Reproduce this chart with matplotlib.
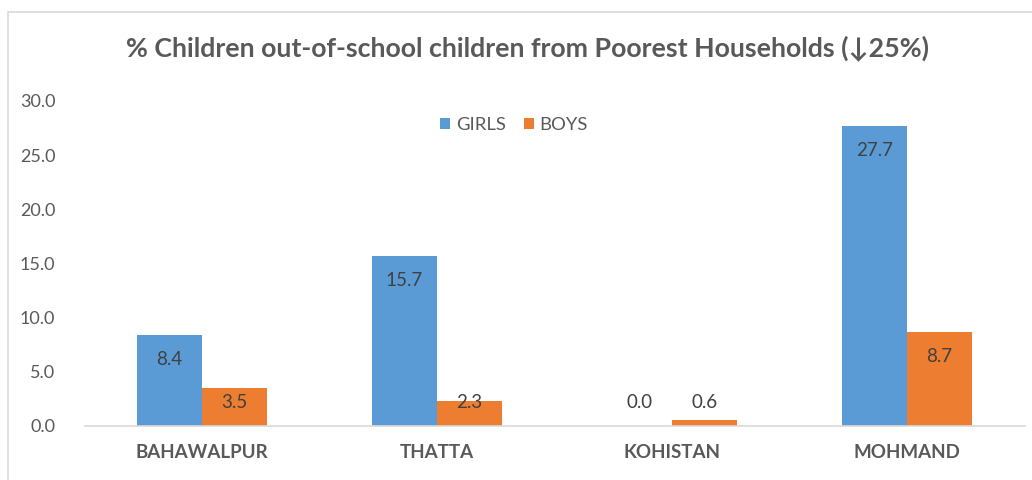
import matplotlib.pyplot as plt
import matplotlib.patches as mpatches
import numpy as np

DISTRICTS = ["BAHAWALPUR", "THATTA", "KOHISTAN", "MOHMAND"]
GIRLS = [8.4, 15.7, 0.0, 27.7]
BOYS = [3.5, 2.3, 0.6, 8.7]
Y_TICKS = [0, 5, 10, 15, 20, 25, 30]

BLUE = "#5b9bd5"
ORANGE = "#ed7d31"
GRAY = "#595959"
FONT = "Lato"

plt.rcParams["font.family"] = [FONT, "DejaVu Sans"]

fig = plt.figure(figsize=(10.32, 4.8), dpi=100)

# chart frame (cropped on the right/bottom in the reference)
fig.patches.append(mpatches.Rectangle((8 / 1032, -0.1), 1.2, 1 - 12 / 480 + 0.1,
                                      transform=fig.transFigure, fill=False,
                                      edgecolor="#d9d9d9", linewidth=1.2))

ax = fig.add_axes([84.5 / 1032, 1 - 426 / 480, 940 / 1032, 325 / 480])

x = np.arange(len(DISTRICTS))
w = 0.277
bars_g = ax.bar(x - w / 2, GIRLS, w, color=BLUE, label="GIRLS")
bars_b = ax.bar(x + w / 2, BOYS, w, color=ORANGE, label="BOYS")

for bars, vals in ((bars_g, GIRLS), (bars_b, BOYS)):
    for b, v in zip(bars, vals):
        ax.text(b.get_x() + b.get_width() / 2, max(v - 2.3, 2.2), f"{v:.1f}",
                ha="center", va="center", fontsize=13.5, color="#404040")

ax.set_xlim(-0.5, len(DISTRICTS) - 0.5)
ax.set_ylim(0, 30)
ax.set_yticks(Y_TICKS)
ax.set_yticklabels([f"{t:.1f}" for t in Y_TICKS], fontsize=13, color=GRAY)
ax.set_xticks(x)
ax.set_xticklabels(DISTRICTS, fontsize=13.5, fontweight="bold", color=GRAY)
ax.tick_params(axis="y", length=0, pad=21)
ax.tick_params(axis="x", length=0, pad=13)

for s in ("top", "right", "left"):
    ax.spines[s].set_visible(False)
ax.spines["bottom"].set_color("#d9d9d9")
ax.spines["bottom"].set_linewidth(1.2)

ax.legend(loc="center", bbox_to_anchor=(514 / 1032, 1 - 125 / 480),
          bbox_transform=fig.transFigure, ncol=2, frameon=False,
          fontsize=13.3, labelcolor=GRAY, handlelength=0.55, handleheight=0.55,
          handletextpad=0.3, columnspacing=1.0)

fig.text(528 / 1032, 1 - 48 / 480,
         "% Children out-of-school children from Poorest Households (\u219325%)",
         ha="center", va="center", fontsize=19.3, fontweight="bold", color=GRAY,
         family=[FONT, "DejaVu Sans"])

fig.savefig("out.png", dpi=100)
